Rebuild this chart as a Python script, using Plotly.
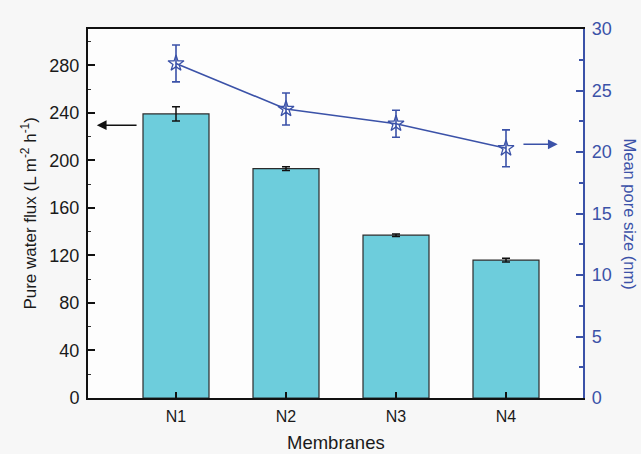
import plotly.graph_objects as go

# Membrane samples
membranes = ["N1", "N2", "N3", "N4"]

# Pure water flux (L m-2 h-1) with standard deviation
flux = [239, 193, 137, 116]
flux_err = [6, 1.5, 1, 1.5]

# Mean pore size (nm) with standard deviation
pore_size = [27.2, 23.5, 22.3, 20.3]
pore_err = [1.5, 1.3, 1.1, 1.5]

# Axis tick values
flux_ticks = [0, 40, 80, 120, 160, 200, 240, 280]
pore_ticks = [0, 5, 10, 15, 20, 25, 30]

BLUE = "#3b52a8"
BAR = "#6dcddc"
FONT = "Liberation Sans, Arial, sans-serif"

xpos = list(range(len(membranes)))

fig = go.Figure()

fig.add_trace(go.Bar(
    x=xpos, y=flux, width=0.6,
    marker=dict(color=BAR, line=dict(color="#2b2b2b", width=1.2)),
    error_y=dict(type="data", array=flux_err, color="#111111", thickness=1.5, width=4),
    yaxis="y", showlegend=False,
))

fig.add_trace(go.Scatter(
    x=xpos, y=pore_size, mode="lines+markers",
    line=dict(color=BLUE, width=1.6),
    marker=dict(symbol="star-open", size=12, color=BLUE, line=dict(width=1.3, color=BLUE)),
    error_y=dict(type="data", array=pore_err, color=BLUE, thickness=1.6, width=4),
    yaxis="y2", showlegend=False,
))

fig.update_layout(
    width=641, height=454,
    margin=dict(l=88, r=58, t=29, b=56),
    paper_bgcolor="#f7f7f7",
    plot_bgcolor="#fdfdfd",
    font=dict(family=FONT, size=16, color="#1a1a1a"),
    xaxis=dict(
        range=[-0.8, 3.7],
        tickvals=xpos, ticktext=membranes,
        ticks="inside", ticklen=6, tickwidth=1.5, tickcolor="#111111",
        showline=True, linecolor="#111111", linewidth=2, mirror=True,
        showgrid=False, zeroline=False, automargin=False,
        tickfont=dict(size=16),
        ticklabelstandoff=3,
    ),
    yaxis=dict(
        range=[0, 310.5],
        tickvals=flux_ticks,
        ticks="inside", ticklen=7, tickwidth=2, tickcolor="#111111",
        minor=dict(ticks="inside", ticklen=3, tickwidth=1, tickcolor="#333333", dtick=20),
        showline=True, linecolor="#111111", linewidth=2,
        showgrid=False, zeroline=False, automargin=False,
        tickfont=dict(size=18),
        ticklabelstandoff=3,
    ),
    yaxis2=dict(
        range=[0, 30],
        overlaying="y", side="right",
        tickvals=pore_ticks,
        ticks="inside", ticklen=7, tickwidth=2, tickcolor=BLUE,
        minor=dict(ticks="inside", ticklen=4, tickwidth=1.5, tickcolor=BLUE, dtick=2.5),
        showline=True, linecolor=BLUE, linewidth=2.2,
        showgrid=False, zeroline=False, automargin=False,
        tickfont=dict(size=18, color=BLUE),
        ticklabelstandoff=3,
    ),
    annotations=[
        dict(text="Membranes",
             xref="paper", yref="paper", x=0.5, y=-0.121,
             xanchor="center", yanchor="middle",
             showarrow=False, font=dict(size=18.5, color="#1a1a1a")),
        dict(text="Pure water flux (L m<sup>-2</sup> h<sup>-1</sup>)",
             xref="paper", yref="paper", x=-0.121, y=0.5,
             xanchor="center", yanchor="middle", textangle=-90,
             showarrow=False, font=dict(size=17, color="#1a1a1a")),
        dict(text="Mean pore size (nm)",
             xref="paper", yref="paper", x=1.095, y=0.5,
             xanchor="center", yanchor="middle", textangle=90,
             showarrow=False, font=dict(size=16.5, color=BLUE)),
        # arrow pointing to the flux axis
        dict(text="", xref="x", yref="y", x=-0.72, y=229.6,
             axref="x", ayref="y", ax=-0.345, ay=229.6,
             showarrow=True, arrowhead=2, arrowsize=1.3, arrowwidth=1.5,
             arrowcolor="#111111"),
        # arrow pointing to the pore size axis
        dict(text="", xref="x", yref="y2", x=3.47, y=20.63,
             axref="x", ayref="y2", ax=3.145, ay=20.63,
             showarrow=True, arrowhead=2, arrowsize=1.3, arrowwidth=1.5,
             arrowcolor=BLUE),
    ],
)

fig.write_html("out.html")
